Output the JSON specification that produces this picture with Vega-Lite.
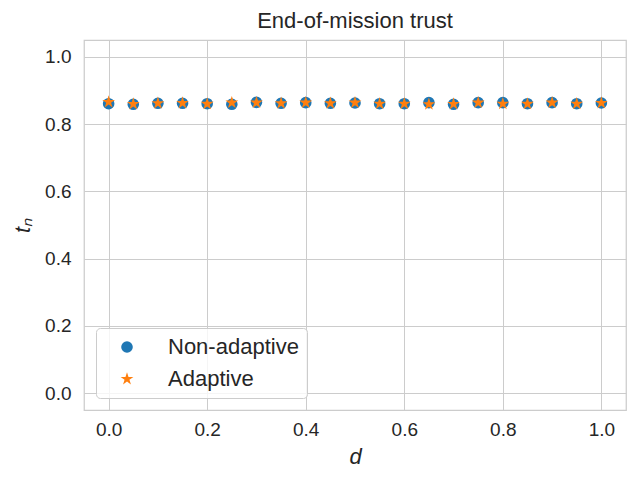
{
  "$schema": "https://vega.github.io/schema/vega-lite/v6.json",
  "width": 542,
  "height": 370,
  "autosize": {"type": "none"},
  "padding": {"left": 84, "top": 40, "right": 14, "bottom": 70},
  "background": "white",
  "config": {
    "font": "Liberation Sans",
    "view": {"stroke": "#cccccc", "strokeWidth": 1.25},
    "axis": {
      "domain": false,
      "ticks": false,
      "grid": true,
      "gridColor": "#cccccc",
      "gridWidth": 1,
      "labelColor": "#262626",
      "labelFontSize": 19,
      "titleColor": "#262626",
      "titleFontWeight": "normal"
    }
  },
  "title": {
    "text": "End-of-mission trust",
    "fontSize": 22,
    "fontWeight": "normal",
    "color": "#262626",
    "offset": 7
  },
  "data": {
    "values": [
      {"d": 0.0, "t": 0.8606, "series": "Non-adaptive"},
      {"d": 0.05, "t": 0.8588, "series": "Non-adaptive"},
      {"d": 0.1, "t": 0.8618, "series": "Non-adaptive"},
      {"d": 0.15, "t": 0.8618, "series": "Non-adaptive"},
      {"d": 0.2, "t": 0.8606, "series": "Non-adaptive"},
      {"d": 0.25, "t": 0.8588, "series": "Non-adaptive"},
      {"d": 0.3, "t": 0.8647, "series": "Non-adaptive"},
      {"d": 0.35, "t": 0.8618, "series": "Non-adaptive"},
      {"d": 0.4, "t": 0.8637, "series": "Non-adaptive"},
      {"d": 0.45, "t": 0.8618, "series": "Non-adaptive"},
      {"d": 0.5, "t": 0.8627, "series": "Non-adaptive"},
      {"d": 0.55, "t": 0.8606, "series": "Non-adaptive"},
      {"d": 0.6, "t": 0.8606, "series": "Non-adaptive"},
      {"d": 0.65, "t": 0.8637, "series": "Non-adaptive"},
      {"d": 0.7, "t": 0.8588, "series": "Non-adaptive"},
      {"d": 0.75, "t": 0.8637, "series": "Non-adaptive"},
      {"d": 0.8, "t": 0.8637, "series": "Non-adaptive"},
      {"d": 0.85, "t": 0.8606, "series": "Non-adaptive"},
      {"d": 0.9, "t": 0.8637, "series": "Non-adaptive"},
      {"d": 0.95, "t": 0.8606, "series": "Non-adaptive"},
      {"d": 1.0, "t": 0.8627, "series": "Non-adaptive"},
      {"d": 0.0, "t": 0.8657, "series": "Adaptive"},
      {"d": 0.05, "t": 0.8598, "series": "Adaptive"},
      {"d": 0.1, "t": 0.8618, "series": "Adaptive"},
      {"d": 0.15, "t": 0.8627, "series": "Adaptive"},
      {"d": 0.2, "t": 0.8600, "series": "Adaptive"},
      {"d": 0.25, "t": 0.8637, "series": "Adaptive"},
      {"d": 0.3, "t": 0.8637, "series": "Adaptive"},
      {"d": 0.35, "t": 0.8618, "series": "Adaptive"},
      {"d": 0.4, "t": 0.8637, "series": "Adaptive"},
      {"d": 0.45, "t": 0.8618, "series": "Adaptive"},
      {"d": 0.5, "t": 0.8637, "series": "Adaptive"},
      {"d": 0.55, "t": 0.8606, "series": "Adaptive"},
      {"d": 0.6, "t": 0.8606, "series": "Adaptive"},
      {"d": 0.65, "t": 0.8590, "series": "Adaptive"},
      {"d": 0.7, "t": 0.8598, "series": "Adaptive"},
      {"d": 0.75, "t": 0.8637, "series": "Adaptive"},
      {"d": 0.8, "t": 0.8606, "series": "Adaptive"},
      {"d": 0.85, "t": 0.8600, "series": "Adaptive"},
      {"d": 0.9, "t": 0.8637, "series": "Adaptive"},
      {"d": 0.95, "t": 0.8606, "series": "Adaptive"},
      {"d": 1.0, "t": 0.8627, "series": "Adaptive"}
    ]
  },
  "mark": {"type": "point", "filled": true, "opacity": 1},
  "encoding": {
    "x": {
      "field": "d",
      "type": "quantitative",
      "scale": {"domain": [-0.05, 1.05], "nice": false, "zero": false},
      "axis": {
        "title": "d",
        "titleFontSize": 22,
        "titleFontStyle": "italic",
        "values": [0, 0.2, 0.4, 0.6, 0.8, 1.0],
        "format": ".1f",
        "labelPadding": 10,
        "titlePadding": 7
      }
    },
    "y": {
      "field": "t",
      "type": "quantitative",
      "scale": {"domain": [-0.05, 1.05], "nice": false, "zero": false},
      "axis": {
        "title": "tₙ",
        "titleFontSize": 22,
        "titleFontStyle": "italic",
        "values": [0, 0.2, 0.4, 0.6, 0.8, 1.0],
        "format": ".1f",
        "labelPadding": 13,
        "titlePadding": 10
      }
    },
    "color": {
      "field": "series",
      "type": "nominal",
      "scale": {"domain": ["Non-adaptive", "Adaptive"], "range": ["#1f77b4", "#ff7f0e"]},
      "legend": {
        "title": null,
        "orient": "none",
        "legendX": 12,
        "legendY": 288,
        "labelFontSize": 22,
        "labelColor": "#262626",
        "symbolSize": 120,
        "symbolOffset": 12,
        "labelOffset": 30,
        "rowPadding": 10,
        "padding": 8,
        "strokeColor": "#cccccc",
        "fillColor": "rgba(255,255,255,0.8)",
        "cornerRadius": 4
      }
    },
    "shape": {
      "field": "series",
      "type": "nominal",
      "scale": {
        "domain": ["Non-adaptive", "Adaptive"],
        "range": ["circle", "M0,-1L0.225,-0.309L0.951,-0.309L0.363,0.118L0.588,0.809L0,0.382L-0.588,0.809L-0.363,0.118L-0.951,-0.309L-0.225,-0.309Z"]
      }
    },
    "size": {
      "field": "series",
      "type": "nominal",
      "scale": {"domain": ["Non-adaptive", "Adaptive"], "range": [135, 180]},
      "legend": null
    }
  }
}
